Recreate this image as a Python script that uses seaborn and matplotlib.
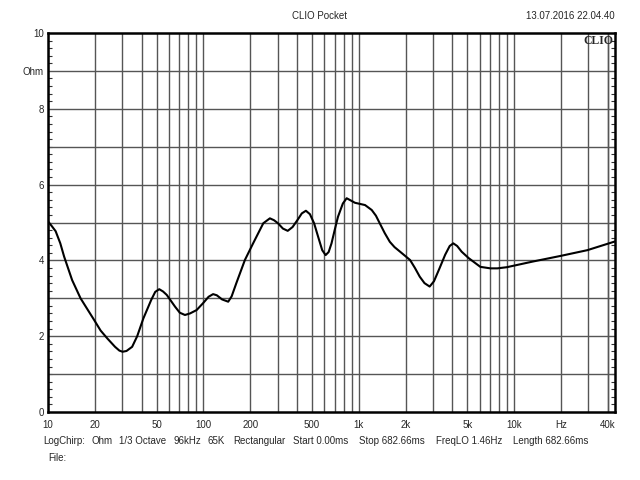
import matplotlib
matplotlib.use("Agg")
import matplotlib.pyplot as plt
import seaborn as sns
import pandas as pd

# impedance curve
freq_hz = [10, 10.6, 11.2, 12.0, 12.7, 14.3, 16.2, 18.0, 19.8, 21.8, 24.1, 27.0,
           28.8, 30.2, 32.0, 34.8, 37.5, 41.1, 46.2, 49.0, 52.0, 55.0, 58.1,
           65.7, 70.5, 76.1, 82.0, 90.5, 100, 108, 115.5, 122, 132, 144.5, 152,
           163, 185, 209, 243, 268, 285, 302, 325, 349, 375, 404, 430, 457,
           485, 516, 550, 582, 612, 640, 668, 700, 735, 790, 836, 890, 946,
           1020, 1098, 1212, 1290, 1365, 1470, 1585, 1700, 1845, 2140, 2300,
           2470, 2650, 2860, 3050, 3310, 3600, 3850, 4060, 4300, 4595, 5100,
           6060, 7040, 7800, 8960, 13200, 20000, 29600, 44600]
ohm = [5.03, 4.90, 4.77, 4.45, 4.10, 3.48, 3.00, 2.70, 2.43, 2.15, 1.94, 1.72,
       1.62, 1.59, 1.61, 1.72, 2.00, 2.47, 2.96, 3.17, 3.24, 3.18, 3.09,
       2.78, 2.62, 2.56, 2.60, 2.69, 2.88, 3.04, 3.11, 3.08, 2.97, 2.91, 3.05,
       3.40, 4.01, 4.45, 4.98, 5.11, 5.06, 4.98, 4.84, 4.78, 4.88, 5.07, 5.24,
       5.31, 5.22, 4.98, 4.60, 4.27, 4.14, 4.22, 4.45, 4.80, 5.15, 5.50, 5.64,
       5.58, 5.52, 5.49, 5.46, 5.33, 5.18, 4.98, 4.72, 4.49, 4.35, 4.23, 4.01,
       3.80, 3.57, 3.40, 3.31, 3.45, 3.79, 4.15, 4.38, 4.45, 4.38, 4.23, 4.06,
       3.83, 3.79, 3.79, 3.82, 3.97, 4.12, 4.27, 4.50]

grid_freqs = [m * 10 ** d for d in range(1, 5) for m in range(1, 10)] + [40000]
label_map = {10: "10", 20: "20", 50: "50", 100: "100", 200: "200", 500: "500",
             1000: "1k", 2000: "2k", 5000: "5k", 10000: "10k", 20000: "Hz",
             40000: "40k"}
y_labels = {0: "0", 2: "2", 4: "4", 6: "6", 8: "8", 9: "Ohm", 10: "10"}

info_items = ["LogChirp:", "Ohm", "1/3 Octave", "96kHz", "65K", "Rectangular",
              "Start 0.00ms", "Stop 682.66ms", "FreqLO 1.46Hz", "Length 682.66ms"]
info_x = [43, 91, 119, 173, 208, 233, 293, 359, 436, 513]

sns.set_style("white")
plt.rcParams["font.family"] = ["Liberation Sans", "DejaVu Sans"]
FS = 7

W, H = 640, 480
fig = plt.figure(figsize=(6.4, 4.8), dpi=100)
x0, x1, ytop, ybot = 48, 615, 33, 412
ax = fig.add_axes([x0 / W, 1 - ybot / H, (x1 - x0) / W, (ybot - ytop) / H])

df = pd.DataFrame({"freq": freq_hz, "ohm": ohm})
sns.lineplot(data=df, x="freq", y="ohm", ax=ax, color="black", linewidth=1.5,
             zorder=3)

ax.set_xscale("log")
ax.set_xlim(10, 44600)
ax.set_ylim(0, 10)

for f in grid_freqs:
    ax.axvline(f, color="#555555", linewidth=1.0, zorder=1)
for v in range(1, 10):
    ax.axhline(v, color="#555555", linewidth=1.0, zorder=1)

ax.set_xticks(list(label_map.keys()))
ax.set_xticklabels(list(label_map.values()))
ax.xaxis.set_minor_locator(matplotlib.ticker.NullLocator())
ax.tick_params(axis="x", length=0, pad=6, labelsize=FS)

ax.set_yticks(list(y_labels.keys()))
ax.set_yticklabels(list(y_labels.values()))
ax.set_yticks([i * 0.2 for i in range(51)], minor=True)
ax.tick_params(axis="y", which="major", length=0, pad=3, labelsize=FS)
ax.tick_params(axis="y", which="minor", direction="in", length=3, width=0.8,
               left=True, right=True, color="#333333")
ax.set_xlabel("")
ax.set_ylabel("")

for s in ax.spines.values():
    s.set_visible(True)
    s.set_color("black")
    s.set_linewidth(1.8)

ax.text(0.998, 0.995, "CLIO", transform=ax.transAxes, ha="right", va="top",
        family="Liberation Serif", fontweight="bold", fontsize=8.5, zorder=4)

fig.text(320 / W, 1 - 16 / H, "CLIO Pocket", ha="center", va="center", fontsize=FS)
fig.text(615 / W, 1 - 16 / H, "13.07.2016 22.04.40", ha="right", va="center",
         fontsize=FS)
for t, px in zip(info_items, info_x):
    fig.text(px / W, 1 - 441 / H, t, ha="left", va="center", fontsize=FS)
fig.text(48 / W, 1 - 458 / H, "File:", ha="left", va="center", fontsize=FS)

fig.savefig("out.png", dpi=100)
